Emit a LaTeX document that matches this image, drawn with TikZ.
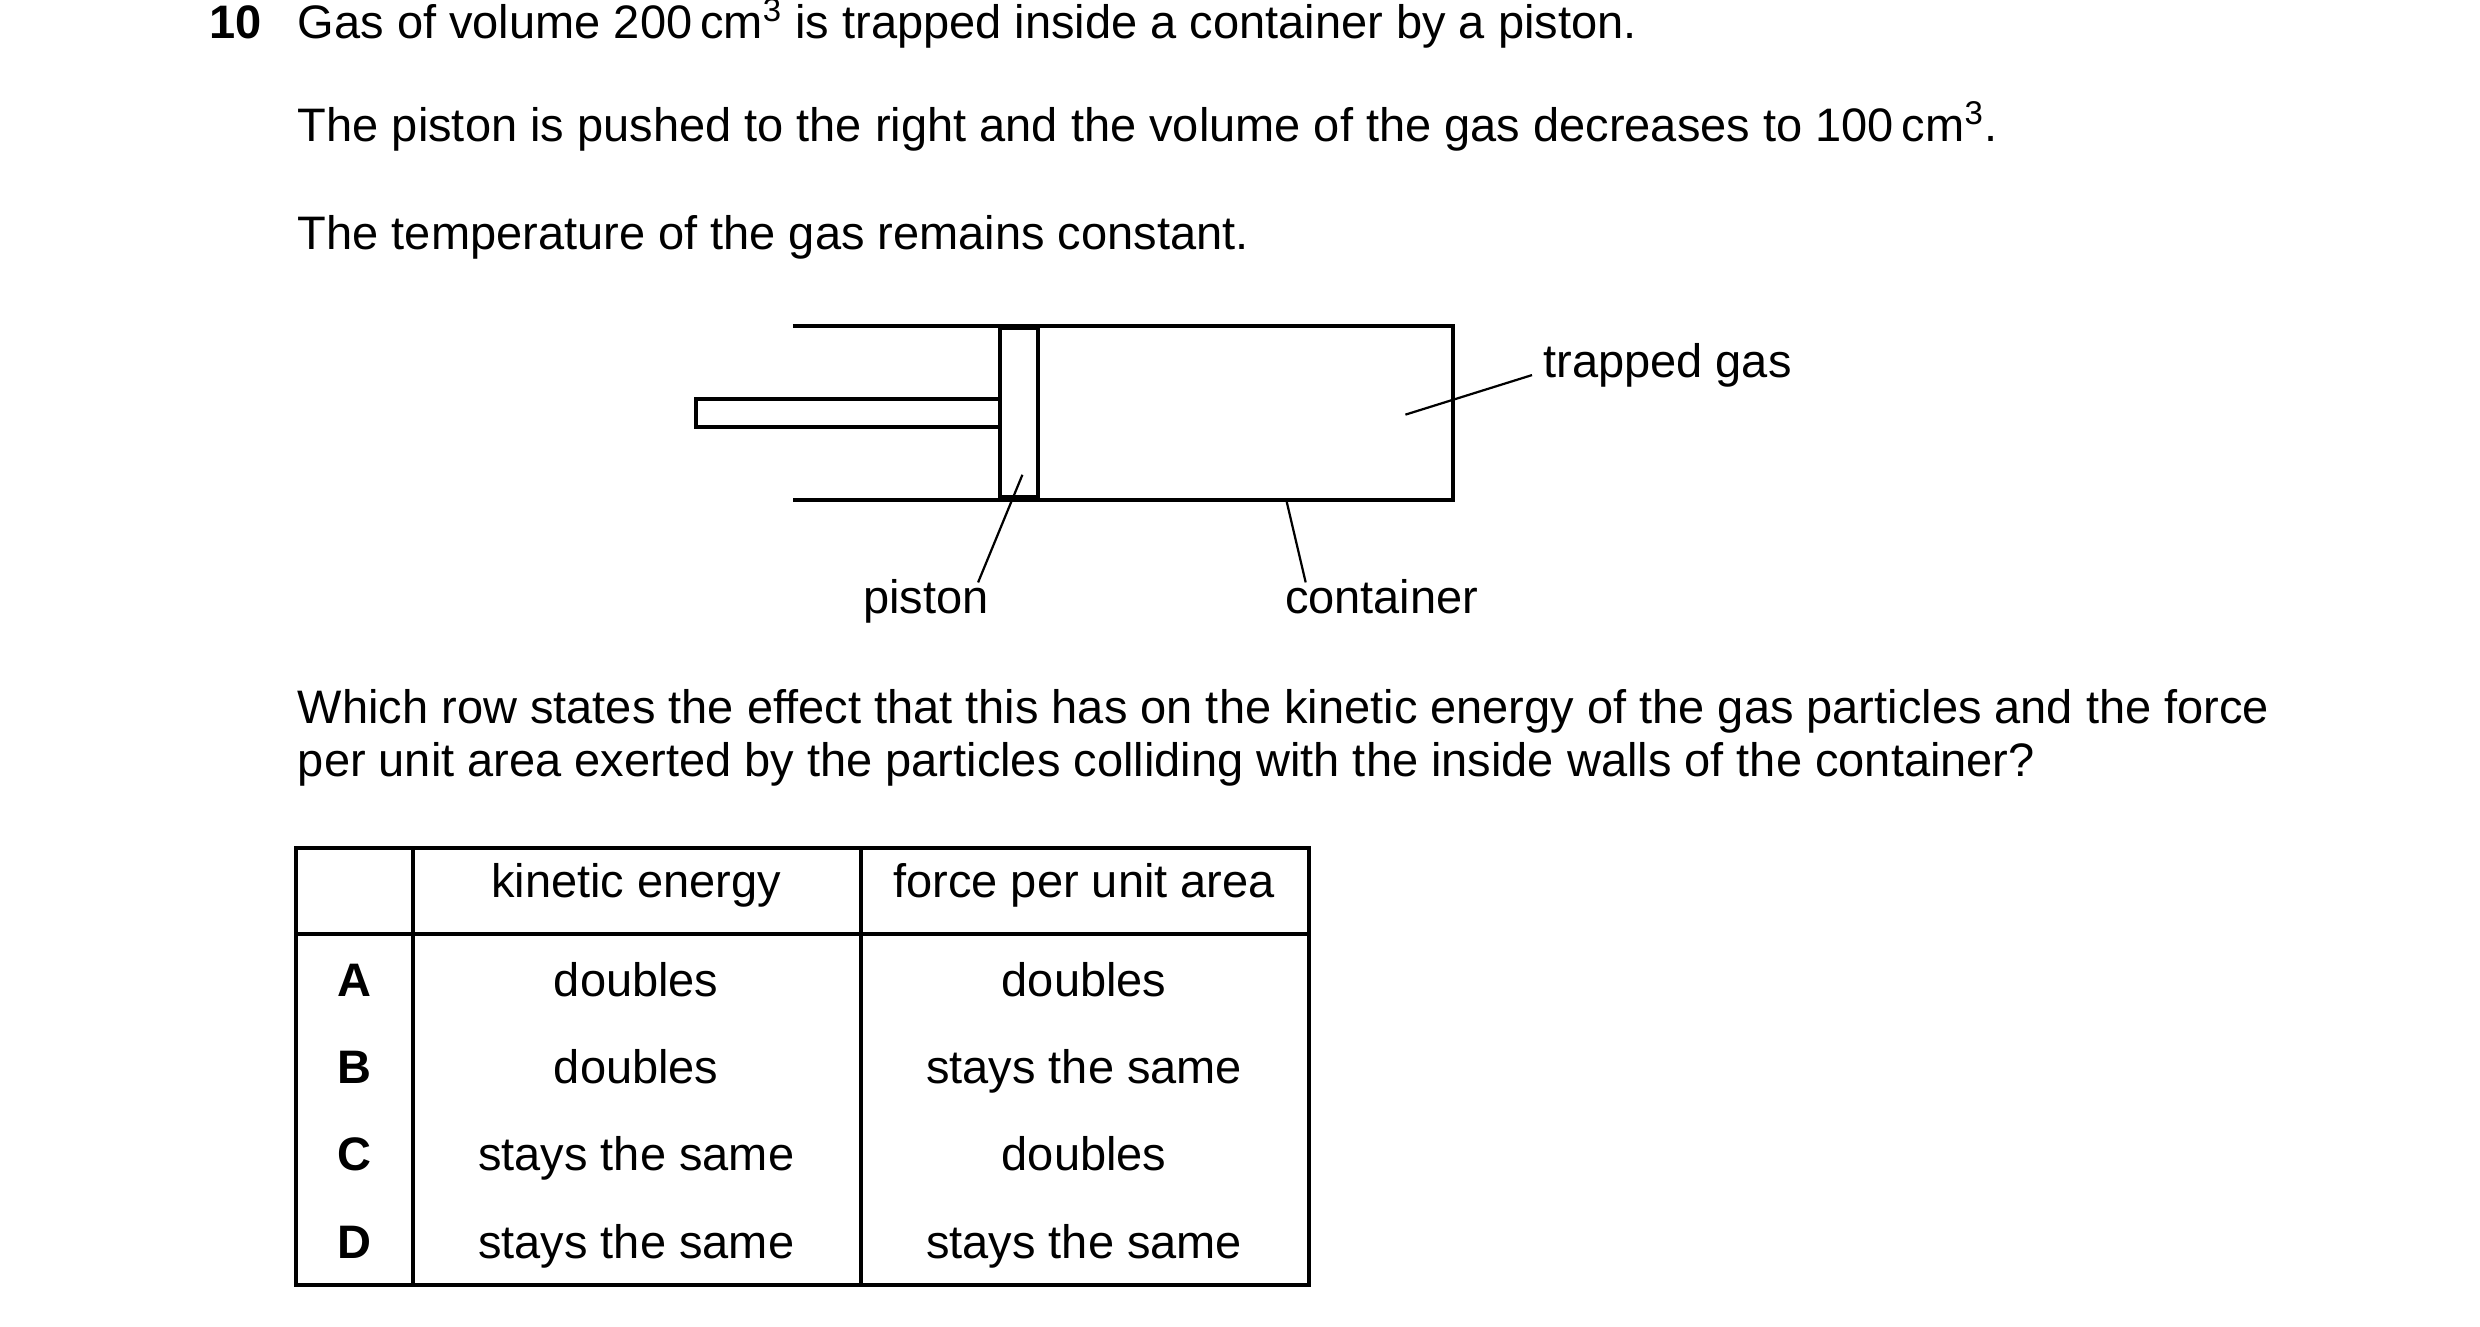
\documentclass[tikz,border=0pt]{standalone}
\usepackage{fontspec}
\setmainfont{Liberation Sans}
\usetikzlibrary{positioning}

\begin{document}
\begin{tikzpicture}[x=0.02cm, y=-0.02cm, line width=1.4pt,
    txt/.style={anchor=west, inner sep=0pt, text height=0.72em, text depth=0.22em, font=\fontsize{16.9}{19}\selectfont},
    lbl/.style={inner sep=0pt, text height=0.72em, text depth=0.22em, font=\fontsize{16.9}{19}\selectfont},
    lead/.style={line width=0.8pt}]
  \useasboundingbox (0,0) rectangle (1567,838);
  % question text
  \node[txt, font=\bfseries\fontsize{16.9}{19}\selectfont] (num) at (131,20) {10};
  \node[txt] (q1) at (187,20) {Gas of volume 200\,cm\textsuperscript{3} is trapped inside a container by a piston.};
  \node[txt] (q2) at (187,85) {The piston is pushed to the right and the volume of the gas decreases to 100\,cm\textsuperscript{3}.};
  \node[txt] (q3) at (187,153) {The temperature of the gas remains constant.};
  % container and piston
  \draw (501,206) -- (918,206) -- (918,316) -- (501,316);
  \draw (632,207) rectangle (656,314);
  \draw (632,252) -- (440,252) -- (440,270) -- (632,270);
  \coordinate (gasend) at (888,262);
  \coordinate (gasstart) at (968,237);
  \coordinate (pisend) at (646,300);
  \coordinate (pisstart) at (618,368);
  \coordinate (conend) at (813,317);
  \coordinate (constart) at (825,368);
  \node[lbl, anchor=west] (gas) at (974,234) {trapped gas};
  \node[lbl] (pis) at (585,383) {piston};
  \node[lbl] (con) at (873,383) {container};
  \draw[lead] (gasend) -- (gasstart);
  \draw[lead] (pisend) -- (pisstart);
  \draw[lead] (conend) -- (constart);
  % question
  \node[txt] (q4) at (187,453) {Which row states the effect that this has on the kinetic energy of the gas particles and the force};
  \node[txt] (q5) at (187,486) {per unit area exerted by the particles colliding with the inside walls of the container?};
  % table
  \draw (187,536) rectangle (827,812);
  \draw (187,590) -- (827,590);
  \draw (261,536) -- (261,812);
  \draw (544,536) -- (544,812);
  \node[lbl] (hk) at (402,563) {kinetic energy};
  \node[lbl] (hf) at (685,563) {force per unit area};
  \foreach \r/\y/\k/\f in {A/625/doubles/doubles, B/680/doubles/stays the same,
      C/735/stays the same/doubles, D/791/stays the same/stays the same}{
    \node[lbl, font=\bfseries\fontsize{16.9}{19}\selectfont] (row\r) at (224,\y) {\r};
    \node[lbl] (ke\r) at (402,\y) {\k};
    \node[lbl] (fa\r) at (685,\y) {\f};
  }
\end{tikzpicture}
\end{document}
